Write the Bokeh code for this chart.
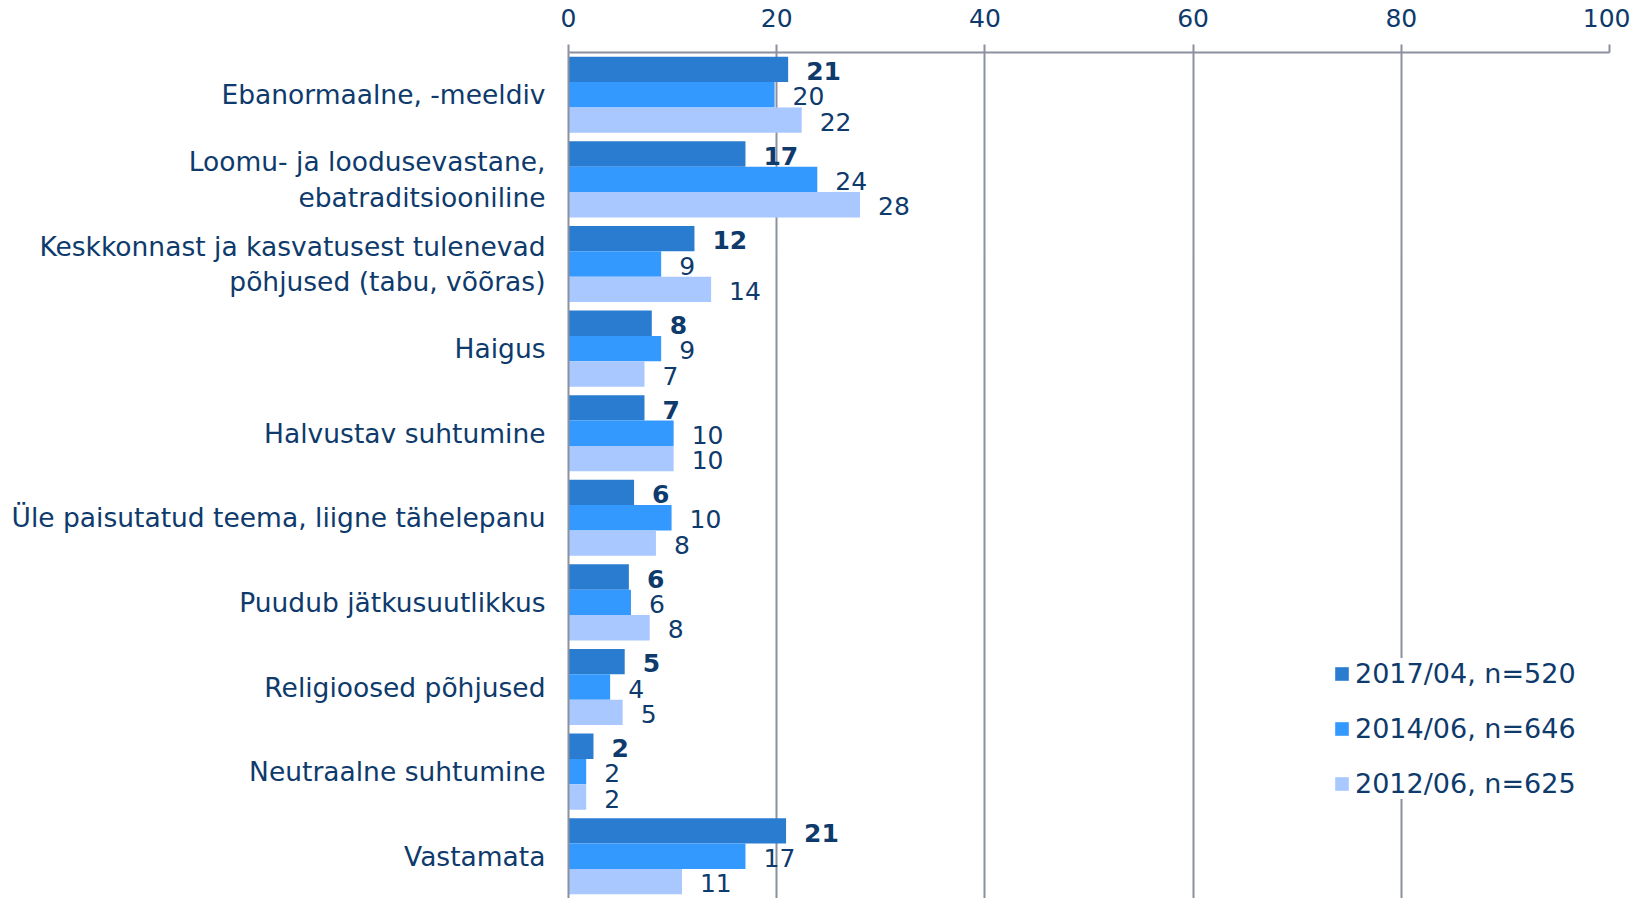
from bokeh.plotting import figure
from bokeh.models import FactorRange, Range1d, ColumnDataSource, Legend, LegendItem, FixedTicker
from bokeh.transform import dodge
from bokeh.embed import file_html
from bokeh.resources import INLINE
from bokeh.core.properties import value

categories = [
    "Ebanormaalne, -meeldiv",
    "Loomu- ja loodusevastane,\nebatraditsiooniline",
    "Keskkonnast ja kasvatusest tulenevad\npõhjused (tabu, võõras)",
    "Haigus",
    "Halvustav suhtumine",
    "Üle paisutatud teema, liigne tähelepanu",
    "Puudub jätkusuutlikkus",
    "Religioosed põhjused",
    "Neutraalne suhtumine",
    "Vastamata",
]
s2017 = [21.1, 17.0, 12.1, 8.0, 7.3, 6.3, 5.8, 5.4, 2.4, 20.9]
s2014 = [19.8, 23.9, 8.9, 8.9, 10.1, 9.9, 6.0, 4.0, 1.7, 17.0]
s2012 = [22.4, 28.0, 13.7, 7.3, 10.1, 8.4, 7.8, 5.2, 1.7, 10.9]
series_names = ["2017/04, n=520", "2014/06, n=646", "2012/06, n=625"]
x_ticks = [0, 20, 40, 60, 80, 100]

FONT = "DejaVu Sans"
TEXT = "#0e3a6c"
GRID = "#8c90a0"
COLORS = ["#2a7cd1", "#3399ff", "#a8c8ff"]
OFFS = [0.30, 0.0, -0.30]
BAR_H = 0.30

p = figure(
    width=1630, height=898,
    y_range=FactorRange(factors=list(reversed(categories))),
    x_range=Range1d(0, 100),
    x_axis_location="above",
    output_backend="svg", toolbar_location=None,
    min_border_left=568, min_border_right=21,
    min_border_top=52, min_border_bottom=0,
)
p.outline_line_color = None

xa = p.xaxis[0]
xa.ticker = FixedTicker(ticks=x_ticks)
xa.major_label_text_font = FONT
xa.major_label_text_font_size = "25px"
xa.major_label_text_color = TEXT
xa.major_tick_out = 8
xa.major_tick_in = 0
xa.minor_tick_line_color = None
xa.major_tick_line_color = GRID
xa.major_tick_line_width = 2
xa.axis_line_color = GRID
xa.axis_line_width = 2
xa.major_label_standoff = 18

ya = p.yaxis[0]
ya.major_label_text_font = FONT
ya.major_label_text_font_size = "26.5px"
ya.major_label_text_color = TEXT
ya.major_label_text_line_height = 1.15
ya.major_tick_out = 0
ya.major_tick_in = 0
ya.minor_tick_line_color = None
ya.axis_line_color = GRID
ya.axis_line_width = 2
ya.major_label_standoff = 23

p.xgrid.ticker = FixedTicker(ticks=x_ticks)
p.xgrid.grid_line_color = GRID
p.xgrid.grid_line_width = 2
p.ygrid.grid_line_color = None

items = []
for i, (vals, name) in enumerate(zip([s2017, s2014, s2012], series_names)):
    src = ColumnDataSource(dict(cat=categories, val=vals,
                                lab=[f"{v:.0f}" for v in vals]))
    r = p.hbar(y=dodge("cat", OFFS[i], range=p.y_range), right="val", left=0,
               height=BAR_H, source=src, fill_color=COLORS[i], line_color=None)
    p.text(x="val", y=dodge("cat", OFFS[i] - 0.02, range=p.y_range), text="lab", source=src,
           x_offset=18, text_align="left", text_baseline="middle",
           text_font=value(FONT), text_font_size="25px", text_color=TEXT,
           text_font_style="bold" if i == 0 else "normal")
    items.append(LegendItem(label=name, renderers=[r]))

legend = Legend(items=items, location=(765, 99),
                border_line_color=None, background_fill_color="white",
                background_fill_alpha=1.0,
                label_text_font=FONT, label_text_font_size="27px",
                label_text_color=TEXT, glyph_width=17, glyph_height=17,
                label_height=31, spacing=24, padding=12, margin=0,
                label_standoff=5)
p.add_layout(legend)

open("out.html", "w").write(file_html(p, INLINE))
